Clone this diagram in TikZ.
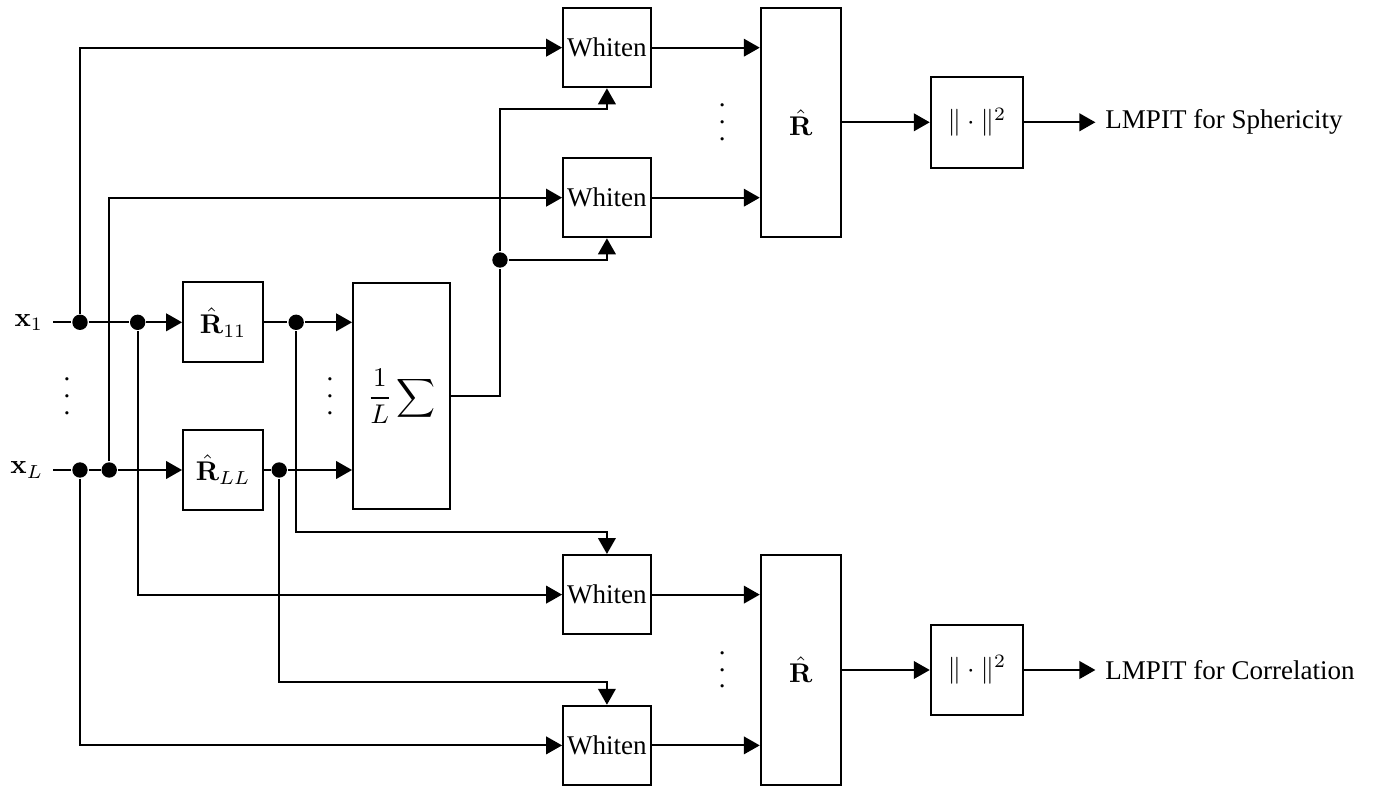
\documentclass[tikz,border=0pt]{standalone}
\usepackage[no-math]{fontspec}
\setmainfont{Liberation Serif}
\usetikzlibrary{arrows.meta,positioning,calc}
\newcommand{\colvdots}{\vbox{\baselineskip=6.2pt\lineskiplimit=0pt\hbox{.}\hbox{.}\hbox{.}}}

\begin{document}
\begin{tikzpicture}[>={Triangle[length=5.9pt,width=6.5pt]},line width=0.75pt,
  blk/.style={draw,minimum width=1.04cm,minimum height=1.04cm,inner sep=1pt},
  wbox/.style={draw,minimum width=1.14cm,minimum height=1.03cm,inner sep=1pt},
  tall/.style={draw,minimum width=1.04cm,minimum height=2.98cm},
  nrm/.style={draw,minimum width=1.2cm,minimum height=1.18cm},
  dot/.style={circle,fill,inner sep=0pt,minimum size=0.2cm}]
\useasboundingbox (0,0) rectangle (17.875,-10.231);
% inputs
\node[anchor=east] (x1) at (0.69,-4.19) {$\mathbf{x}_1$};
\node[anchor=east] (xL) at (0.69,-6.11) {$\mathbf{x}_L$};
\node (vd1) at (0.87,-5.15) {\colvdots};
\node[dot] (j1a) at (1.04,-4.19) {};
\node[dot] (j1b) at (1.79,-4.19) {};
\node[dot] (jLa) at (1.04,-6.11) {};
\node[dot] (jLb) at (1.42,-6.11) {};
% sample covariances and their mean
\node[blk] (r11) at (2.90,-4.19) {$\hat{\mathbf{R}}_{11}$};
\node[blk] (rLL) at (2.90,-6.11) {$\hat{\mathbf{R}}_{LL}$};
\node[dot] (k1) at (3.85,-4.19) {};
\node[dot] (kL) at (3.63,-6.11) {};
\node (vd2) at (4.29,-5.15) {\colvdots};
\node[draw,minimum width=1.26cm,minimum height=2.94cm] (avg) at (5.22,-5.15) {$\displaystyle\frac{1}{L}\sum$};
\node[dot] (s) at (6.50,-3.38) {};
% whitening
\node[wbox] (w1) at (7.89,-0.62) {Whiten};
\node[wbox] (w2) at (7.89,-2.57) {Whiten};
\node[wbox] (w3) at (7.89,-7.73) {Whiten};
\node[wbox] (w4) at (7.89,-9.69) {Whiten};
\node (vd3) at (9.39,-1.59) {\colvdots};
\node (vd4) at (9.39,-8.71) {\colvdots};
% statistics
\node[tall] (rs) at (10.41,-1.59) {$\hat{\mathbf{R}}$};
\node[tall] (rc) at (10.41,-8.71) {$\hat{\mathbf{R}}$};
\node[nrm] (ns) at (12.70,-1.59) {$\|\cdot\|^2$};
\node[nrm] (nc) at (12.70,-8.71) {$\|\cdot\|^2$};
\node[anchor=west] (os) at (14.24,-1.59) {LMPIT for Sphericity};
\node[anchor=west] (oc) at (14.24,-8.71) {LMPIT for Correlation};

\draw (x1.east) -- (j1a) -- (j1b);
\draw[->] (j1b) -- (r11);
\draw (xL.east) -- (jLa) -- (jLb);
\draw[->] (jLb) -- (rLL);
\draw[->] (j1a) |- (w1);
\draw[->] (jLb) |- (w2);
\draw[->] (j1b) |- (w3);
\draw[->] (jLa) |- (w4);
\draw (r11) -- (k1);
\draw[->] (k1) -- (k1 -| avg.west);
\draw (rLL) -- (kL);
\draw[->] (kL) -- (kL -| avg.west);
\draw (avg.east) -| (s);
\draw[->] (s) |- ($(w1.south)-(0,0.27)$) -- (w1.south);
\draw[->] (s) -| (w2.south);
\draw[->] (k1) |- ($(w3.north)+(0,0.285)$) -- (w3.north);
\draw[->] (kL) |- ($(w4.north)+(0,0.295)$) -- (w4.north);
\draw[->] (w1) -- (w1 -| rs.west);
\draw[->] (w2) -- (w2 -| rs.west);
\draw[->] (w3) -- (w3 -| rc.west);
\draw[->] (w4) -- (w4 -| rc.west);
\draw[->] (rs) -- (ns);
\draw[->] (ns) -- (os);
\draw[->] (rc) -- (nc);
\draw[->] (nc) -- (oc);
\end{tikzpicture}
\end{document}
